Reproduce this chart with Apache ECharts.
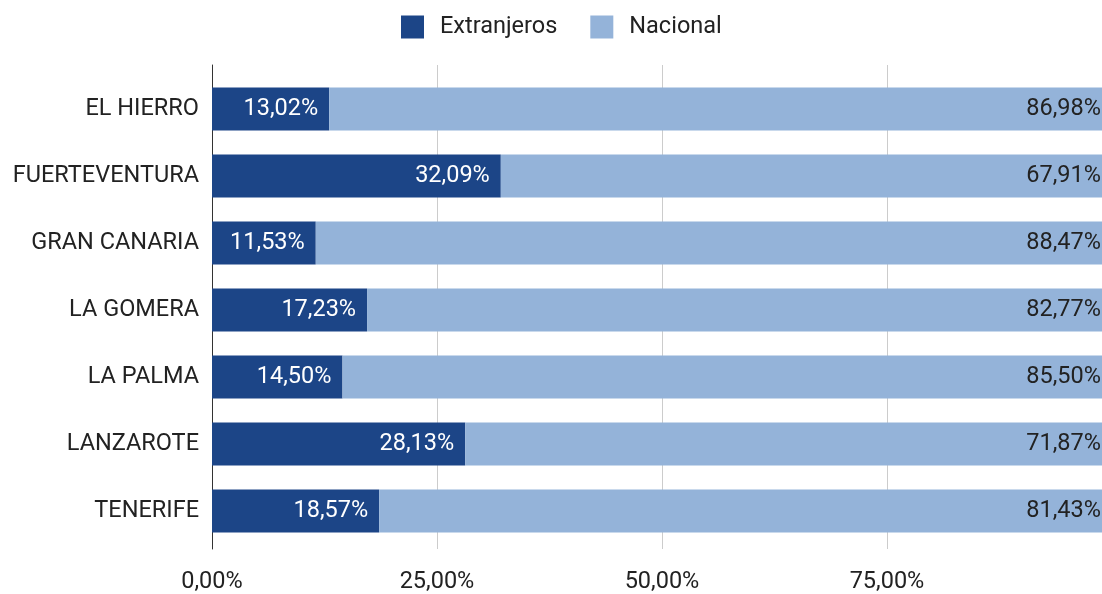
<!DOCTYPE html>
<html>
<head>
<meta charset="utf-8">
<script src="https://cdn.jsdelivr.net/npm/echarts@6/dist/echarts.min.js"></script>
<style>
  html, body { margin: 0; padding: 0; background: #fff; overflow: hidden; }
  /* the plot runs past the right edge of the picture, as in the original crop */
  #chart { width: 1112px; height: 594px; }
</style>
</head>
<body>
<div id="chart"></div>
<script>
const islands = ['EL HIERRO', 'FUERTEVENTURA', 'GRAN CANARIA', 'LA GOMERA', 'LA PALMA', 'LANZAROTE', 'TENERIFE']
const extranjeros = [13.02, 32.09, 11.53, 17.23, 14.50, 28.13, 18.57]
const nacional = [86.98, 67.91, 88.47, 82.77, 85.50, 71.87, 81.43]
const xTicks = [0, 25, 50, 75, 100]

const font = 'Roboto, "Noto Sans", sans-serif'
const fs = 23.5
const pct = v => Number(v).toFixed(2).replace('.', ',') + '%'

const chart = echarts.init(document.getElementById('chart'))

const option = {
  animation: false,
  textStyle: { fontFamily: font },
  legend: {
    left: 401,
    top: 15,
    padding: 0,
    itemWidth: 23,
    itemHeight: 23,
    itemGap: 33,
    icon: 'rect',
    textStyle: { fontSize: fs, color: '#222', padding: [0, 0, 0, 11], fontFamily: font },
    data: ['Extranjeros', 'Nacional']
  },
  grid: [
    // back grid: gridlines and left axis line, a bit taller than the bars
    { left: 212, right: 0, top: 65, bottom: 38 },
    // bars
    { left: 212, right: 0, top: 75.5, height: 469 }
  ],
  xAxis: [
    {
      gridIndex: 0,
      type: 'value',
      min: xTicks[0],
      max: xTicks[xTicks.length - 1],
      interval: 25,
      axisLine: { show: false },
      axisTick: { show: false },
      splitLine: { lineStyle: { color: '#cccccc', width: 1 } },
      axisLabel: {
        showMaxLabel: false,
        margin: 21,
        fontSize: fs,
        color: '#222',
        fontFamily: font,
        formatter: v => pct(v)
      }
    },
    {
      gridIndex: 1,
      type: 'value',
      min: 0,
      max: 100,
      show: false
    }
  ],
  yAxis: [
    {
      gridIndex: 0,
      type: 'category',
      data: islands,
      inverse: true,
      axisLine: { show: true, lineStyle: { color: '#333', width: 1 } },
      axisTick: { show: false },
      axisLabel: { show: false },
      splitLine: { show: false }
    },
    {
      gridIndex: 1,
      type: 'category',
      data: islands,
      inverse: true,
      axisLine: { show: false },
      axisTick: { show: false },
      axisLabel: { margin: 13, fontSize: fs, color: '#222', fontFamily: font }
    }
  ],
  series: [
    {
      name: 'Extranjeros',
      type: 'bar',
      stack: 'total',
      xAxisIndex: 1,
      yAxisIndex: 1,
      barWidth: 43,
      itemStyle: { color: '#1c4587' },
      label: {
        show: true,
        position: 'insideRight',
        distance: 11,
        fontSize: fs,
        color: '#ffffff',
        fontFamily: font,
        formatter: p => pct(p.value)
      },
      data: extranjeros
    },
    {
      name: 'Nacional',
      type: 'bar',
      stack: 'total',
      xAxisIndex: 1,
      yAxisIndex: 1,
      barWidth: 43,
      itemStyle: { color: '#94b3d9' },
      label: {
        show: true,
        position: 'insideRight',
        distance: 11,
        fontSize: fs,
        color: '#222',
        fontFamily: font,
        formatter: p => pct(p.value)
      },
      data: nacional
    }
  ]
}

chart.setOption(option)
</script>
</body>
</html>
